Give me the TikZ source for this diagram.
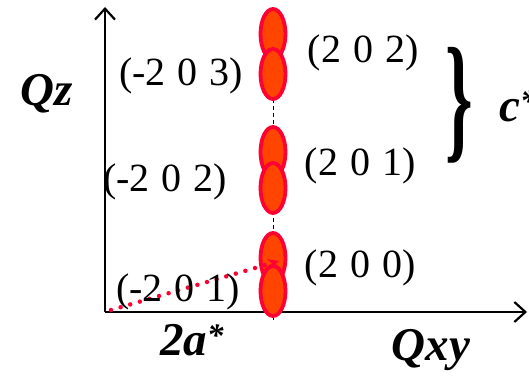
\documentclass[tikz,border=0pt]{standalone}
\usepackage{fontspec}
\setmainfont{Liberation Serif}
\usetikzlibrary{arrows.meta,shapes.geometric}

\definecolor{spotfill}{HTML}{FF4500}
\definecolor{spotedge}{HTML}{FF0033}

\begin{document}
\begin{tikzpicture}[x=1pt, y=-1pt,
    axis/.style={line width=2.2pt, -{Straight Barb[length=11pt, width=20pt, line width=2.2pt]}},
    spot/.style={ellipse, draw=spotedge, fill=spotfill, line width=3.8pt, minimum width=25pt, minimum height=50pt, inner sep=0pt},
    hkl/.style={font=\fontsize{40}{40}\selectfont, inner sep=0pt},
    big/.style={font=\fontsize{47}{47}\selectfont\bfseries\itshape, inner sep=0pt},
    trace/.style={spotedge, line width=4.5pt, line cap=round, dash pattern=on 0pt off 10pt, -{Stealth[length=11pt, width=10pt]}}
  ]
    \useasboundingbox (0,0) rectangle (529,378);

    % axes
    \coordinate (origin) at (105,312);
    \coordinate (ztip)   at (105,7);
    \coordinate (xtip)   at (527,312);
    \draw[axis] (origin) -- (ztip);
    \draw[axis] (origin) -- (xtip);

    % rod through the spots
    \coordinate (rodtop) at (273,8);
    \coordinate (rodbot) at (273,322);
    \draw[dashed, line width=0.9pt, dash pattern=on 4pt off 3pt] (rodtop) -- (rodbot);

    % spots, upper one first
    \node[spot] (s202)  at (273,34)  {};
    \node[spot] (sm203) at (273,74)  {};
    \node[spot] (s201)  at (273,152) {};
    \node[spot] (sm202) at (273,188) {};
    \node[spot] (s200)  at (273,258) {};
    \node[spot] (sm201) at (273,291) {};

    % tilted path from origin
    \coordinate (tstart) at (111,310);
    \coordinate (tend)   at (279,261);
    \draw[trace] (tstart) -- (tend);

    % reflection labels
    \def\gap{\hspace{0.3em}}
    \node[hkl] (l202)  at (363,53)  {(2\gap0\gap2)};
    \node[hkl] (lm203) at (181,76)  {(-2\gap0\gap3)};
    \node[hkl] (l201)  at (360,166) {(2\gap0\gap1)};
    \node[hkl] (lm202) at (165,182) {(-2\gap0\gap2)};
    \node[hkl] (l200)  at (360,268) {(2\gap0\gap0)};
    \node[hkl] (lm201) at (178,292) {(-2\gap0\gap1)};

    % axis names and lattice spacings
    \node[big] (qz)  at (47,94)   {Qz};
    \node[big] (qxy) at (431,350) {Qxy};
    \node[big] (ta)  at (192,340) {2a\textsuperscript{*}};
    \node[font=\fontsize{140}{140}\selectfont\bfseries, xscale=0.5, inner sep=0pt] (brace) at (459,105) {\}};
    \node[big, anchor=west] (cs) at (499,106) {c\textsuperscript{*}};
\end{tikzpicture}
\end{document}
